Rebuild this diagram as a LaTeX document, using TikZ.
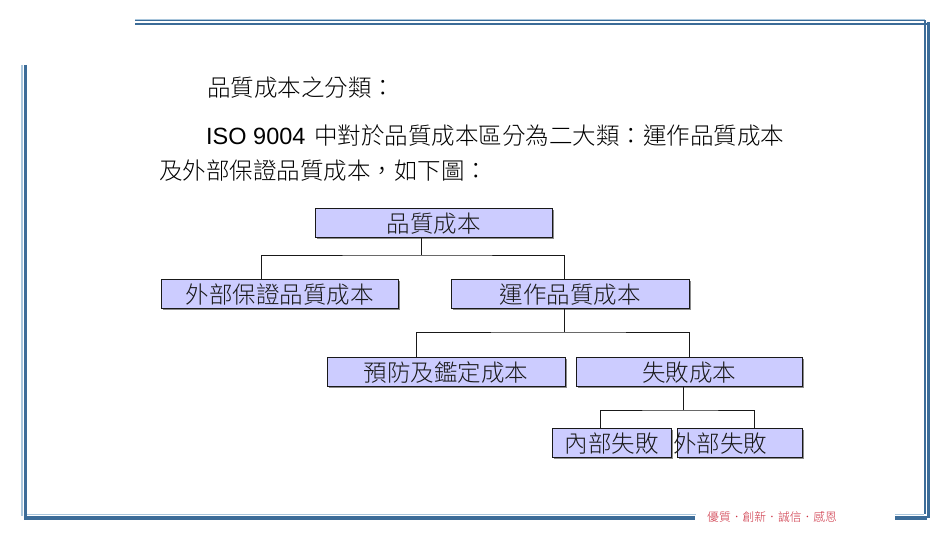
\documentclass[tikz,border=0pt]{standalone}
\usepackage{xcolor}
\usepackage{fontspec}
\usepackage{tikz}
\usetikzlibrary{shadows}
\setmainfont{Noto Sans CJK TC Light}
\newfontfamily\latinfont{Liberation Sans}
\definecolor{framedark}{HTML}{3C6C98}
\definecolor{framelight}{HTML}{A9C6DC}
\definecolor{boxfill}{HTML}{CCCCFF}
\definecolor{mottored}{HTML}{CC2F40}
\tikzset{
  framedk/.style={framedark, line width=2.8pt},
  framelt/.style={framelight, line width=1.6pt},
  costbox/.style={draw=black!90, line width=1pt, fill=boxfill, inner sep=0pt, minimum height=29pt,
    text height=21pt, text depth=2pt,
    font=\fontsize{23.5}{26}\selectfont, text=black!90,
    drop shadow={shadow xshift=2pt, shadow yshift=-2pt, fill=black, opacity=0.45}},
  bodytext/.style={anchor=west, inner sep=0pt, font=\fontsize{23.5}{26}\selectfont, text=black},
  link/.style={draw=black!90, line width=0.9pt}
}
\begin{document}
\begin{tikzpicture}[x=1pt, y=-1pt]
\useasboundingbox (0,0) rectangle (950,535);
% frame
\draw [framelt, line width=1pt] (135,19.2) -- (925,19.2);
\draw [framedk, line width=1.6pt] (135,20.7) -- (926,20.7);
\draw [framedk, line width=2.6pt] (135,23.9) -- (930,23.9);
\draw [framedk, line width=1.5pt] (924.8,21) -- (924.8,514);
\draw [framedk, line width=3pt] (928.4,22) -- (928.4,518);
\draw [framelt, line width=2pt] (22,65) -- (22,516);
\draw [framedk] (25.6,65) -- (25.6,520);
\draw [framelt] (27,514.6) -- (696,514.6);
\draw [framedk, line width=4pt] (24,518.2) -- (695,518.2);
\draw [framelt] (895,514.6) -- (924,514.6);
\draw [framedk, line width=4pt] (895,518.2) -- (926.9,518.2);
% text
\node [bodytext] (title) at (207, 88) {品質成本之分類：};
\node [bodytext] (lineone) at (206, 136) {{\latinfont ISO 9004}\hspace{9pt}中對於品質成本區分為二大類：運作品質成本};
\node [bodytext] (linetwo) at (159, 171) {及外部保證品質成本，如下圖：};
\node [anchor=west, inner sep=0pt, text=mottored, font=\fontsize{11.8}{13}\selectfont] (motto) at (707, 517) {優質．創新．誠信．感恩};
% boxes
\node [costbox, minimum width=237pt] (root) at (433.5, 222.5) {品質成本};
\node [costbox, minimum width=237pt] (external) at (279.5, 293.5) {外部保證品質成本};
\node [costbox, minimum width=238pt] (operating) at (570, 293.5) {運作品質成本};
\node [costbox, minimum width=238pt] (prevent) at (446, 371.5) {預防及鑑定成本};
\node [costbox, minimum width=226pt] (failure) at (689, 371.5) {失敗成本};
\node [costbox, minimum width=119pt] (internal) at (611.5, 442.5) {內部失敗};
\node [costbox, minimum width=125pt] (outside) at (739.5, 442.5) {\hspace*{-39pt}外部失敗};
% links
\coordinate (rootbus) at (421.5, 255);
\coordinate (opbus) at (564, 332);
\coordinate (failbus) at (683, 410);
\draw [link] (root.south -| rootbus) -- (rootbus);
\draw [link] (external.north -| 261,0) |- (rootbus) -| (operating.north -| opbus);
\draw [link] (operating.south -| opbus) -- (opbus);
\draw [link] (prevent.north -| 416,0) |- (opbus) -| (failure.north -| 689,0);
\draw [link] (failure.south -| failbus) -- (failbus);
\draw [link] (internal.north -| 600,0) |- (failbus) -| (outside.north -| 754,0);
\end{tikzpicture}
\end{document}
